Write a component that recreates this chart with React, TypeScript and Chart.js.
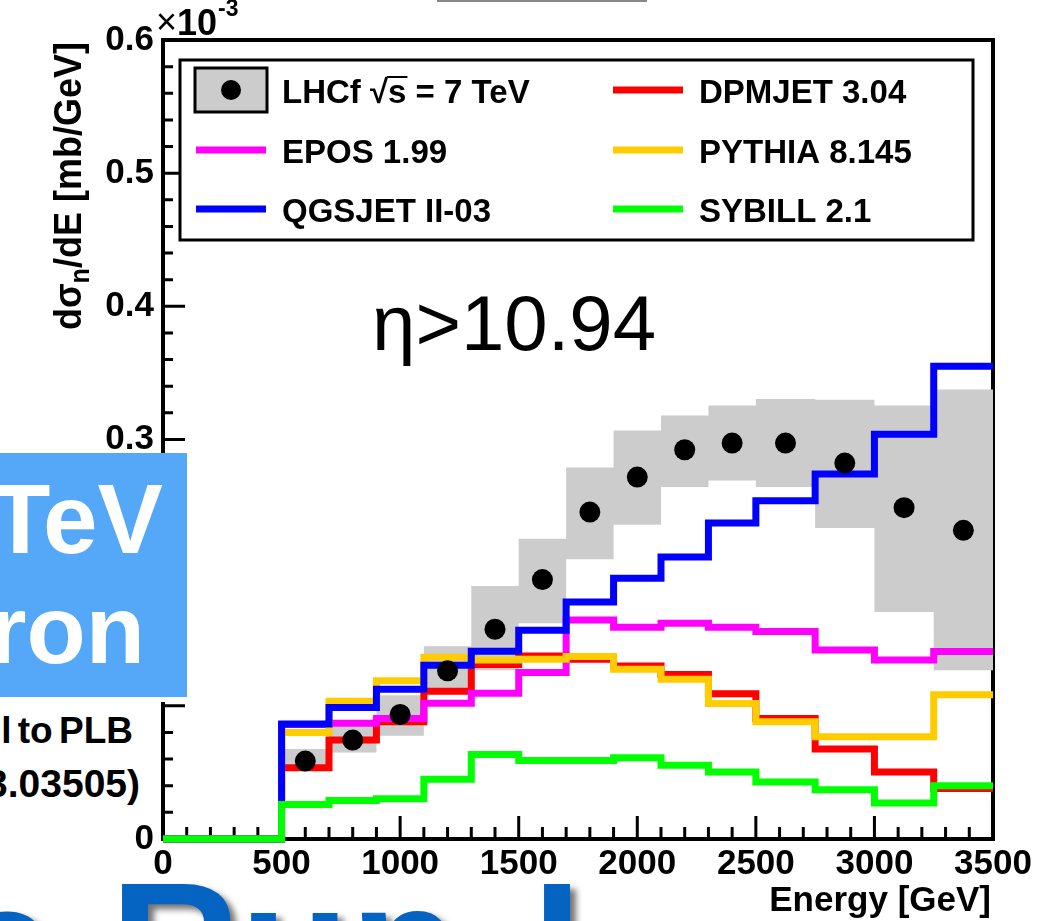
import React, { useEffect, useRef } from 'react';
import { Chart, registerables } from 'chart.js';

Chart.register(...registerables);

// ---------------- data (values in units of 10^-3 mb/GeV) ----------------
const BIN_EDGES = [0, 500, 700, 900, 1100, 1300, 1500, 1700, 1900, 2100, 2300, 2500, 2750, 3000, 3250, 3500];

const DPMJET = [0, 0.0535, 0.0743, 0.088, 0.111, 0.131, 0.1375, 0.135, 0.130, 0.1235, 0.109, 0.0905, 0.0675, 0.0503, 0.038];
const EPOS = [0, 0.086, 0.087, 0.0905, 0.102, 0.1095, 0.125, 0.1645, 0.159, 0.162, 0.159, 0.1558, 0.142, 0.1345, 0.1408];
const PYTHIA = [0, 0.080, 0.1035, 0.1188, 0.1365, 0.1345, 0.135, 0.137, 0.1275, 0.120, 0.1018, 0.088, 0.0768, 0.0768, 0.1083];
const QGSJET = [0, 0.0863, 0.0988, 0.1125, 0.1305, 0.141, 0.1568, 0.178, 0.1958, 0.2118, 0.2373, 0.254, 0.274, 0.304, 0.355];
const SYBILL = [0, 0.026, 0.029, 0.0303, 0.0448, 0.0635, 0.059, 0.059, 0.061, 0.0553, 0.0503, 0.0428, 0.037, 0.027, 0.040];

const LHCF_EDGES = [500, 700, 900, 1100, 1300, 1500, 1700, 1900, 2100, 2300, 2500, 2750, 3000, 3250, 3500];
const LHCF_E = [600, 800, 1000, 1200, 1400, 1600, 1800, 2000, 2200, 2400, 2625, 2875, 3125, 3375];
const LHCF = [0.0585, 0.0743, 0.0935, 0.1263, 0.1575, 0.1948, 0.2455, 0.2718, 0.2923, 0.2973, 0.2973, 0.2823, 0.2488, 0.2318];
const LHCF_SYS_HIGH = [0.0675, 0.086, 0.108, 0.1448, 0.19, 0.2255, 0.279, 0.3068, 0.318, 0.3255, 0.3305, 0.3298, 0.3255, 0.3375];
const LHCF_SYS_LOW = [0.052, 0.065, 0.0775, 0.113, 0.1268, 0.162, 0.21, 0.236, 0.2643, 0.2693, 0.2643, 0.2335, 0.1705, 0.1268];

const SERIES_NAMES = ['LHCf √s = 7 TeV', 'DPMJET 3.04', 'EPOS 1.99', 'PYTHIA 8.145', 'QGSJET II-03', 'SYBILL 2.1'];
const SERIES_COLORS = ['#000000', '#ff0000', '#ff00ff', '#ffcc00', '#0000ff', '#00ff00'];

const X_TICKS = [0, 500, 1000, 1500, 2000, 2500, 3000, 3500];
const X_TICK_LABELS = ['0', '500', '1000', '1500', '2000', '2500', '3000', '3500'];
const Y_TICKS = [0, 0.1, 0.2, 0.3, 0.4, 0.5, 0.6];
const Y_TICK_LABELS = ['0', '0.1', '0.2', '0.3', '0.4', '0.5', '0.6'];

const X_TITLE = 'Energy [GeV]';
const Y_TITLE_PARTS = ['dσ', 'n', '/dE [mb/GeV]'];
const ANNOTATION = 'η>10.94';

const FONT = '"Liberation Sans", Arial, Helvetica, sans-serif';

function stepPoints(edges: number[], vals: number[]) {
  const pts = vals.map((v, i) => ({ x: edges[i], y: v }));
  pts.push({ x: edges[vals.length], y: vals[vals.length - 1] });
  return pts;
}

const rootPlugin = {
  id: 'rootDecor',
  beforeDatasetsDraw(chart: any) {
    const { ctx, chartArea: ca, scales } = chart;
    const xs = scales.x;
    const ys = scales.y;
    ctx.save();
    ctx.strokeStyle = '#000';
    ctx.lineWidth = 3;
    ctx.beginPath();
    for (let i = 0; i < X_TICKS.length; i++) {
      const px = xs.getPixelForValue(X_TICKS[i]);
      ctx.moveTo(px, ca.bottom);
      ctx.lineTo(px, ca.bottom - 23);
      if (i < X_TICKS.length - 1) {
        const step = (X_TICKS[i + 1] - X_TICKS[i]) / 5;
        for (let k = 1; k < 5; k++) {
          const pm = xs.getPixelForValue(X_TICKS[i] + k * step);
          ctx.moveTo(pm, ca.bottom);
          ctx.lineTo(pm, ca.bottom - 12);
        }
      }
    }
    for (let i = 0; i < Y_TICKS.length; i++) {
      const py = ys.getPixelForValue(Y_TICKS[i]);
      ctx.moveTo(ca.left, py);
      ctx.lineTo(ca.left + 22, py);
      if (i < Y_TICKS.length - 1) {
        const step = (Y_TICKS[i + 1] - Y_TICKS[i]) / 5;
        for (let k = 1; k < 5; k++) {
          const pm = ys.getPixelForValue(Y_TICKS[i] + k * step);
          ctx.moveTo(ca.left, pm);
          ctx.lineTo(ca.left + 10, pm);
        }
      }
    }
    ctx.stroke();
    ctx.lineWidth = 4;
    ctx.strokeRect(ca.left, ca.top, ca.right - ca.left, ca.bottom - ca.top);
    ctx.restore();
  },
  afterDraw(chart: any) {
    const { ctx, chartArea: ca } = chart;
    ctx.save();
    // ---- legend ----
    const L = ca.left + 17, T = ca.top + 20, R = ca.right - 20, B = ca.top + 200;
    ctx.fillStyle = '#fff';
    ctx.fillRect(L, T, R - L, B - T);
    ctx.strokeStyle = '#000';
    ctx.lineWidth = 3;
    ctx.strokeRect(L, T, R - L, B - T);
    const rowsY = [T + 30, T + 90, T + 149];
    const col1 = L + 16, col2 = L + 433;
    const symW = 70;
    const entries = [
      { name: 0, col: col1, row: 0 },
      { name: 2, col: col1, row: 1 },
      { name: 4, col: col1, row: 2 },
      { name: 1, col: col2, row: 0 },
      { name: 3, col: col2, row: 1 },
      { name: 5, col: col2, row: 2 },
    ];
    ctx.font = `bold 33px ${FONT}`;
    ctx.textBaseline = 'alphabetic';
    ctx.textAlign = 'left';
    for (const e of entries) {
      const y = rowsY[e.row];
      if (e.name === 0) {
        ctx.fillStyle = '#cccccc';
        ctx.fillRect(e.col - 1, y - 22, symW + 2, 44);
        ctx.lineWidth = 3;
        ctx.strokeStyle = '#000';
        ctx.strokeRect(e.col - 1, y - 22, symW + 2, 44);
        ctx.fillStyle = '#000';
        ctx.beginPath();
        ctx.arc(e.col + symW / 2, y, 10, 0, Math.PI * 2);
        ctx.fill();
      } else {
        ctx.strokeStyle = SERIES_COLORS[e.name];
        ctx.lineWidth = 7;
        ctx.beginPath();
        ctx.moveTo(e.col, y);
        ctx.lineTo(e.col + symW, y);
        ctx.stroke();
      }
      ctx.fillStyle = '#000';
      const tx = e.col + symW + 16;
      const ty = y + 13;
      const label = SERIES_NAMES[e.name];
      ctx.fillText(label, tx, ty);
      if (e.name === 0) {
        const idx = label.indexOf('√');
        const x0 = tx + ctx.measureText(label.slice(0, idx + 1)).width;
        const w = ctx.measureText('s').width;
        ctx.lineWidth = 2;
        ctx.strokeStyle = '#000';
        ctx.beginPath();
        ctx.moveTo(x0 - 1, ty - 26);
        ctx.lineTo(x0 + w + 1, ty - 26);
        ctx.stroke();
      }
    }
    // ---- annotation ----
    ctx.fillStyle = '#000';
    ctx.font = `78px ${FONT}`;
    ctx.fillText(ANNOTATION, ca.left + 209, ca.top + 310);
    // ---- exponent ----
    ctx.font = `36px ${FONT}`;
    ctx.fillText('×', ca.left - 7, ca.top - 6);
    const wx = ctx.measureText('×').width;
    ctx.font = `bold 36px ${FONT}`;
    ctx.fillText('10', ca.left - 7 + wx, ca.top - 5);
    const w10 = ctx.measureText('10').width;
    ctx.font = `bold 23px ${FONT}`;
    ctx.fillText('-3', ca.left - 7 + wx + w10 + 1, ca.top - 24);
    // ---- x title ----
    ctx.font = `bold 35px ${FONT}`;
    ctx.textAlign = 'right';
    ctx.fillText(X_TITLE, ca.right - 2, 911);
    // ---- y title (rotated) ----
    ctx.textAlign = 'left';
    ctx.translate(81, 330);
    ctx.scale(1.1, 1);
    ctx.rotate(-Math.PI / 2);
    ctx.font = `bold 36px ${FONT}`;
    ctx.fillText(Y_TITLE_PARTS[0], 0, 0);
    let off = ctx.measureText(Y_TITLE_PARTS[0]).width;
    ctx.font = `bold 25px ${FONT}`;
    ctx.fillText(Y_TITLE_PARTS[1], off, 7);
    off += ctx.measureText(Y_TITLE_PARTS[1]).width;
    ctx.font = `bold 36px ${FONT}`;
    ctx.fillText(Y_TITLE_PARTS[2], off, 0);
    ctx.restore();
  },
};

export default function App() {
  const canvasRef = useRef<HTMLCanvasElement | null>(null);

  useEffect(() => {
    const canvas = canvasRef.current;
    if (!canvas) return;
    const lineDs = (idx: number, vals: number[], order: number) => ({
      label: SERIES_NAMES[idx],
      data: stepPoints(BIN_EDGES, vals),
      borderColor: SERIES_COLORS[idx],
      backgroundColor: SERIES_COLORS[idx],
      borderWidth: 7,
      stepped: 'before' as const,
      pointRadius: 0,
      fill: false,
      order,
      clip: { left: 0, right: 0, top: 0, bottom: 6 },
      borderJoinStyle: 'miter' as const,
    });
    const chart = new Chart(canvas, {
      type: 'line',
      data: {
        datasets: [
          {
            label: 'sys low',
            data: stepPoints(LHCF_EDGES, LHCF_SYS_LOW),
            borderColor: 'rgba(0,0,0,0)',
            borderWidth: 1,
            stepped: 'before',
            pointRadius: 0,
            fill: false,
            order: 30,
          },
          {
            label: 'sys high',
            data: stepPoints(LHCF_EDGES, LHCF_SYS_HIGH),
            borderColor: 'rgba(0,0,0,0)',
            backgroundColor: '#cccccc',
            borderWidth: 1,
            stepped: 'before',
            pointRadius: 0,
            fill: '-1',
            order: 29,
          },
          lineDs(1, DPMJET, 20),
          lineDs(2, EPOS, 19),
          lineDs(3, PYTHIA, 18),
          lineDs(4, QGSJET, 17),
          lineDs(5, SYBILL, 16),
          {
            label: SERIES_NAMES[0],
            data: LHCF_E.map((x, i) => ({ x, y: LHCF[i] })),
            showLine: false,
            pointRadius: 10.5,
            pointBackgroundColor: '#000',
            pointBorderWidth: 0,
            borderColor: '#000',
            order: 1,
          },
        ],
      },
      options: {
        animation: false,
        responsive: false,
        maintainAspectRatio: false,
        devicePixelRatio: 1,
        events: [],
        layout: { padding: { top: 40, right: 47, left: 0, bottom: 0 } },
        plugins: { legend: { display: false }, tooltip: { enabled: false }, title: { display: false } },
        scales: {
          x: {
            type: 'linear',
            min: 0,
            max: 3500,
            afterBuildTicks: (scale: any) => {
              scale.ticks = X_TICKS.map((v) => ({ value: v }));
            },
            afterFit: (scale: any) => {
              scale.height = 82;
            },
            grid: { display: false, drawTicks: false },
            border: { display: false },
            ticks: {
              autoSkip: false,
              maxRotation: 0,
              minRotation: 0,
              padding: 4,
              color: '#000',
              font: { family: FONT, size: 35, weight: 'bold' },
              callback: (_v: any, i: number) => X_TICK_LABELS[i],
            },
          },
          y: {
            type: 'linear',
            min: 0,
            max: 0.6,
            afterBuildTicks: (scale: any) => {
              scale.ticks = Y_TICKS.map((v) => ({ value: v }));
            },
            afterFit: (scale: any) => {
              scale.width = 163;
            },
            grid: { display: false, drawTicks: false },
            border: { display: false },
            ticks: {
              autoSkip: false,
              padding: 9,
              color: '#000',
              font: { family: FONT, size: 35, weight: 'bold' },
              callback: (_v: any, i: number) => Y_TICK_LABELS[i],
            },
          },
        },
      },
      plugins: [rootPlugin],
    });
    return () => chart.destroy();
  }, []);

  const slideBlue = '#0563C1';
  const bigText = {
    position: 'absolute' as const,
    top: 856,
    fontSize: 180,
    lineHeight: '180px',
    fontWeight: 'bold' as const,
    color: slideBlue,
    whiteSpace: 'nowrap' as const,
    textShadow: '6px 5px 6px rgba(0,0,0,0.55)',
  };
  return (
    <div
      style={{
        position: 'absolute',
        left: 0,
        top: 0,
        width: 1040,
        height: 921,
        overflow: 'hidden',
        background: '#fff',
        fontFamily: FONT,
      }}
    >
      <canvas ref={canvasRef} width={1040} height={921} style={{ position: 'absolute', left: 0, top: 0, width: 1040, height: 921 }} />
      {/* slide overlays */}
      <div style={{ position: 'absolute', left: 437, top: 0, width: 210, height: 2, background: '#888' }} />
      <div style={{ position: 'absolute', left: 0, top: 453, width: 187, height: 244, background: '#55a8f7', overflow: 'hidden' }}>
        <div style={{ position: 'absolute', right: 24, top: 17, fontSize: 98, lineHeight: '98px', fontWeight: 'bold', color: '#fff', whiteSpace: 'nowrap' }}>TeV</div>
        <div style={{ position: 'absolute', right: 42, top: 128, fontSize: 97, lineHeight: '97px', fontWeight: 'bold', color: '#fff', whiteSpace: 'nowrap' }}>ron</div>
      </div>
      <div style={{ position: 'absolute', left: 0, top: 697, width: 187, height: 5, background: '#fff' }} />
      <div style={{ position: 'absolute', left: 0, top: 702, width: 157, height: 116, background: '#fff', overflow: 'hidden' }}>
        <div style={{ position: 'absolute', right: 24, top: 9, fontSize: 37, lineHeight: '39px', fontWeight: 'bold', color: '#000', whiteSpace: 'nowrap', wordSpacing: -4 }}>l to PLB</div>
        <div style={{ position: 'absolute', right: 17, top: 62, fontSize: 39, lineHeight: '39px', fontWeight: 'bold', color: '#000', whiteSpace: 'nowrap' }}>3.03505)</div>
      </div>
      <div style={{ ...bigText, left: -45 }}>e</div>
      <div style={{ ...bigText, left: 110 }}>Run</div>
      <div style={{ ...bigText, left: 532 }}>I</div>
    </div>
  );
}
